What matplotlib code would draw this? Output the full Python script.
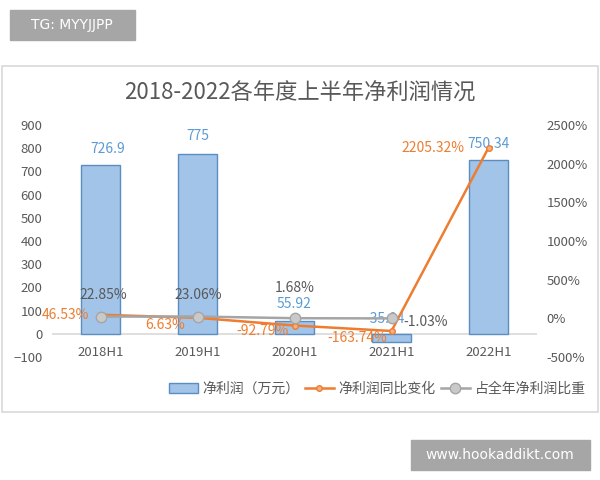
import matplotlib.pyplot as plt
from matplotlib.patches import Rectangle

plt.rcParams['font.family'] = ['Noto Sans CJK SC', 'DejaVu Sans']

categories = ['2018H1', '2019H1', '2020H1', '2021H1', '2022H1']
profit = [726.9, 775, 55.92, -35.04, 750.34]
yoy = [46.53, 6.63, -92.79, -163.74, 2205.32]
share = [22.85, 23.06, 1.68, -1.03]

profit_labels = ['726.9', '775', '55.92', '-35.04', '750.34']
yoy_labels = ['46.53%', '6.63%', '-92.79%', '-163.74%', '2205.32%']
share_labels = ['22.85%', '23.06%', '1.68%', '-1.03%']

BLUE = '#A2C4E8'
BLUE_EDGE = '#5B8DC0'
BLUE_TXT = '#5B9BD5'
ORANGE = '#ED7D31'
GRAY = '#A5A5A5'
TXT = '#595959'

fig = plt.figure(figsize=(6, 4.8), dpi=100)

# watermarks and chart frame
fig.patches.append(Rectangle((10 / 600, 1 - 40 / 480), 125 / 600, 30 / 480,
                             transform=fig.transFigure, color='#A6A6A6'))
fig.text(72 / 600, 1 - 25 / 480, 'TG: MYYJJPP', color='white', fontsize=10,
         ha='center', va='center', family='DejaVu Sans')
fig.patches.append(Rectangle((411 / 600, 1 - 470 / 480), 179 / 600, 30 / 480,
                             transform=fig.transFigure, color='#A6A6A6'))
fig.text(500 / 600, 1 - 455 / 480, 'www.hookaddikt.com', color='white', fontsize=10,
         ha='center', va='center', family='DejaVu Sans')
fig.patches.append(Rectangle((2 / 600, 1 - 412 / 480), 596 / 600, 346 / 480,
                             transform=fig.transFigure, fill=False,
                             edgecolor='#D9D9D9', lw=1.2))

fig.text(300 / 600, 1 - 93 / 480, '2018-2022各年度上半年净利润情况', color=TXT,
         fontsize=16, ha='center', va='center')

ax = fig.add_axes([52 / 600, 1 - 357 / 480, 485 / 600, 232 / 480])
x = list(range(len(categories)))
bars = ax.bar(x, profit, width=0.4, color=BLUE, edgecolor=BLUE_EDGE, lw=1,
              label='净利润（万元）', zorder=2)
ax.set_xlim(-0.5, 4.5)
ax.set_ylim(-100, 900)
ax.set_yticks(range(-100, 901, 100))
ax.axhline(0, color='#D9D9D9', lw=1.2, zorder=1)
ax.set_xticks(x)
ax.set_xticklabels([])
for i, c in enumerate(categories):
    ax.text(i, -80, c, ha='center', va='center', color=TXT, fontsize=9.5)
for s in ax.spines.values():
    s.set_visible(False)
ax.tick_params(axis='both', length=0, colors=TXT, labelsize=9.5)
ax.tick_params(axis='y', pad=7)

ax2 = ax.twinx()
ax2.set_ylim(-500, 2500)
ax2.set_yticks(range(-500, 2501, 500))
ax2.set_yticklabels([f'{v}%' for v in range(-500, 2501, 500)])
for s in ax2.spines.values():
    s.set_visible(False)
ax2.tick_params(axis='y', length=0, colors=TXT, labelsize=9.5, pad=7)

l1, = ax2.plot(x, yoy, color=ORANGE, lw=1.8, marker='o', ms=4,
               mfc='#F4B183', mec=ORANGE, label='净利润同比变化', zorder=3)
l2, = ax2.plot(x[:len(share)], share, color=GRAY, lw=1.8, marker='o', ms=7.5,
               mfc='#C9C9C9', mec=GRAY, label='占全年净利润比重', zorder=4)

# data labels (offsets in pixels)
bar_off = [(7, 16), (0, 18), (0, 17), (-6, 15), (0, 16)]
for i, (v, t) in enumerate(zip(profit, profit_labels)):
    dx, dy = bar_off[i]
    ax.annotate(t, (i, max(v, 0)), xytext=(dx, dy), textcoords='offset pixels',
                ha='center', va='center', color=BLUE_TXT, fontsize=10)
yoy_off = [(-35, 0), (-32, -7), (-32, -5), (-34, -7), (-56, 0)]
for i, (v, t) in enumerate(zip(yoy, yoy_labels)):
    dx, dy = yoy_off[i]
    ax2.annotate(t, (i, v), xytext=(dx, dy), textcoords='offset pixels',
                 ha='center', va='center', color=ORANGE, fontsize=10)
share_off = [(3, 22), (1, 22), (0, 30), (34, -4)]
for i, (v, t) in enumerate(zip(share, share_labels)):
    dx, dy = share_off[i]
    ax2.annotate(t, (i, v), xytext=(dx, dy), textcoords='offset pixels',
                 ha='center', va='center', color=TXT, fontsize=10)

fig.legend([bars, l1, l2], ['净利润（万元）', '净利润同比变化', '占全年净利润比重'],
           loc='center left', bbox_to_anchor=(156 / 600, 1 - 389 / 480),
           ncol=3, frameon=False, fontsize=10, labelcolor=TXT,
           handlelength=2.1, handletextpad=0.35, columnspacing=0.35)

fig.savefig('out.png', dpi=100)
